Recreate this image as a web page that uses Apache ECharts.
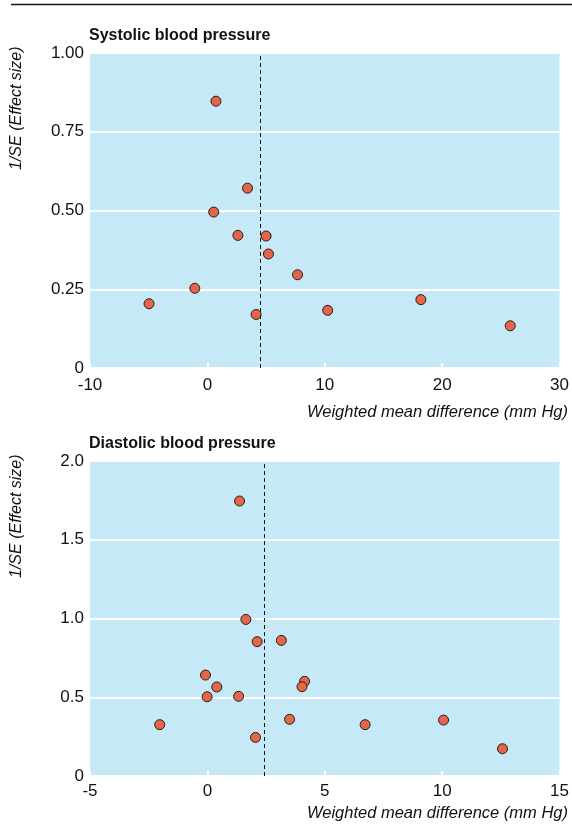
<!DOCTYPE html>
<html><head><meta charset="utf-8">
<script src="https://cdn.jsdelivr.net/npm/echarts@6/dist/echarts.min.js"></script>
<style>html,body{margin:0;padding:0;background:#fff}#c{width:572px;height:827px}</style>
</head><body><div id="c"></div>
<script>
// Systolic blood pressure: [weighted mean difference, 1/SE]
const sysX = [0.73, 3.42, 0.54, 2.6, 5.0, 5.2, 7.68, -1.07, -4.97, 4.15, 10.25, 18.19, 25.8];
const sysY = [0.847, 0.571, 0.495, 0.421, 0.419, 0.362, 0.296, 0.253, 0.204, 0.170, 0.183, 0.217, 0.134];
const sysPooled = 4.5;
const sysXTicks = [-10, 0, 10, 20, 30];
const sysYTicks = [0, 0.25, 0.5, 0.75, 1.0];

// Diastolic blood pressure
const diaX = [1.37, 1.64, 2.12, 3.15, -0.08, 0.40, 4.14, 4.03, -0.01, 1.33, -2.03, 3.50, 2.05, 6.72, 10.06, 12.57];
const diaY = [1.746, 0.994, 0.853, 0.861, 0.641, 0.565, 0.601, 0.567, 0.503, 0.506, 0.326, 0.360, 0.245, 0.326, 0.355, 0.173];
const diaPooled = 2.43;
const diaXTicks = [-5, 0, 5, 10, 15];
const diaYTicks = [0, 0.5, 1.0, 1.5, 2.0];

const titles = ['Systolic blood pressure', 'Diastolic blood pressure'];
const xName = 'Weighted mean difference (mm Hg)';
const yName = '1/SE (Effect size)';

const FONT = "'Liberation Sans', Arial, sans-serif";
const BG = '#c6e9f8';

function zip(a, b) { return a.map((v, i) => [v, b[i]]); }

function xAxis(idx, ticks, margin) {
  return {
    type: 'value', gridIndex: idx,
    min: ticks[0], max: ticks[ticks.length - 1], interval: ticks[1] - ticks[0],
    axisLine: { show: false },
    axisTick: { show: true, inside: true, length: 5, lineStyle: { color: '#ffffff', width: 2 } },
    splitLine: { show: false },
    axisLabel: { color: '#111', fontSize: 17, fontFamily: FONT, margin: margin }
  };
}
function yAxis(idx, ticks, dec) {
  return {
    type: 'value', gridIndex: idx,
    min: ticks[0], max: ticks[ticks.length - 1], interval: ticks[1] - ticks[0],
    axisLine: { show: false }, axisTick: { show: false },
    splitLine: { show: true, lineStyle: { color: '#ffffff', width: 2 } },
    axisLabel: { color: '#111', fontSize: 17, fontFamily: FONT, margin: 6,
      formatter: v => v === 0 ? '0' : v.toFixed(dec) }
  };
}
function series(idx, xs, ys, pooled) {
  return {
    type: 'scatter', xAxisIndex: idx, yAxisIndex: idx,
    data: zip(xs, ys), symbolSize: 10,
    itemStyle: { color: '#e2664a', borderColor: '#2a1a14', borderWidth: 1, opacity: 1 },
    markLine: {
      silent: true, symbol: 'none', label: { show: false },
      lineStyle: { color: '#111', type: [4, 3], width: 1 },
      data: [{ xAxis: pooled }]
    },
    z: 3
  };
}

const chart = echarts.init(document.getElementById('c'), null, { renderer: 'canvas' });
chart.setOption({
  animation: false,
  backgroundColor: '#fff',
  grid: [
    { left: 90, top: 53, width: 472, height: 315, show: true, backgroundColor: BG, borderWidth: 0 },
    { left: 90, top: 461, width: 472, height: 315, show: true, backgroundColor: BG, borderWidth: 0 }
  ],
  title: [
    { text: titles[0], left: 89, top: 28, textStyle: { fontFamily: FONT, fontSize: 16, fontWeight: 'bold', color: '#111' }, padding: 0 },
    { text: titles[1], left: 89, top: 436, textStyle: { fontFamily: FONT, fontSize: 16, fontWeight: 'bold', color: '#111' }, padding: 0 }
  ],
  xAxis: [xAxis(0, sysXTicks, 9), xAxis(1, diaXTicks, 7)],
  yAxis: [yAxis(0, sysYTicks, 2), yAxis(1, diaYTicks, 1)],
  series: [series(0, sysX, sysY, sysPooled), series(1, diaX, diaY, diaPooled)],
  graphic: [
    { type: 'line', shape: { x1: 11, y1: 4.5, x2: 572, y2: 4.5 }, style: { stroke: '#111', lineWidth: 1.5 } },
    { type: 'text', right: 4, top: 404, style: { text: xName, font: 'italic 16.5px ' + FONT, fill: '#111' } },
    { type: 'text', right: 4, top: 805, style: { text: xName, font: 'italic 16.5px ' + FONT, fill: '#111' } },
    { type: 'text', x: 9, y: 170, rotation: Math.PI / 2, style: { text: yName, font: 'italic 16px ' + FONT, fill: '#111', textAlign: 'left', textVerticalAlign: 'top' } },
    { type: 'text', x: 9, y: 578, rotation: Math.PI / 2, style: { text: yName, font: 'italic 16px ' + FONT, fill: '#111', textAlign: 'left', textVerticalAlign: 'top' } }
  ]
});
</script></body></html>
